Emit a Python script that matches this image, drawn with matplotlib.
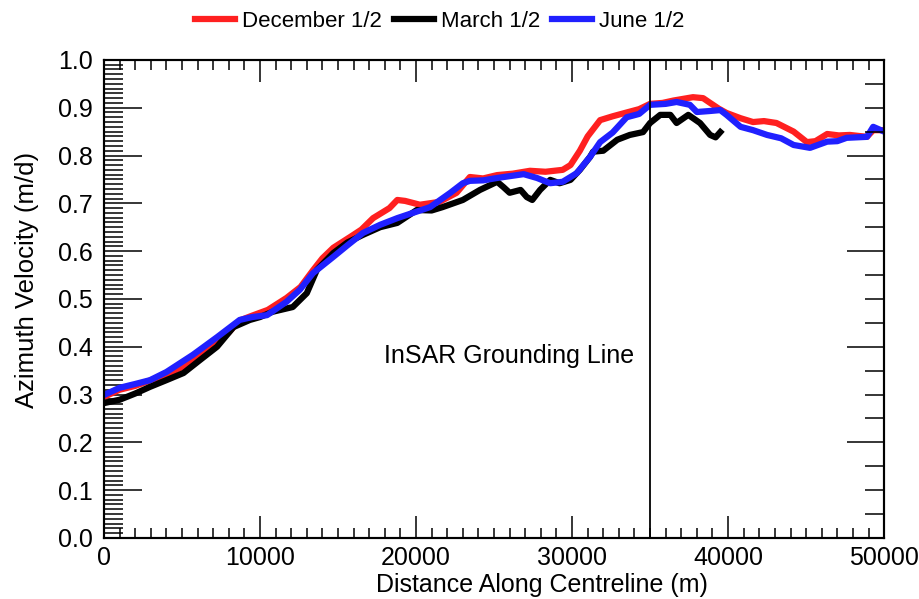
import matplotlib
matplotlib.use('Agg')
import matplotlib.pyplot as plt
from matplotlib.ticker import MultipleLocator

plt.rcParams['font.family'] = ['Liberation Sans', 'DejaVu Sans']

# December 1/2
dec_x = [0, 1000, 2000, 3000, 4000, 5000, 6000, 7000, 8000, 8700, 9500, 10500, 11700, 12600,
         13400, 14000, 14700, 15800, 16500, 17250, 18300, 18800, 19300, 20250, 21500, 22600,
         23450, 24300, 25200, 26200, 27300, 28300, 29400, 29900, 30500, 31000, 31800, 32600,
         33500, 34300, 35000, 35800, 36500, 37750, 38400, 38850, 39400, 39900, 40800, 41600,
         42300, 43100, 44200, 45050, 45600, 46350, 47100, 47800, 48900, 49300, 50000]
dec_y = [0.295, 0.31, 0.318, 0.33, 0.342, 0.357, 0.378, 0.40, 0.43, 0.455, 0.465, 0.477,
         0.502, 0.525, 0.56, 0.585, 0.607, 0.63, 0.645, 0.669, 0.69, 0.707, 0.705, 0.697,
         0.703, 0.722, 0.755, 0.752, 0.759, 0.762, 0.768, 0.766, 0.770, 0.78, 0.81, 0.84,
         0.874, 0.882, 0.89, 0.897, 0.908, 0.91, 0.915, 0.922, 0.92, 0.91, 0.898, 0.889,
         0.878, 0.870, 0.872, 0.868, 0.85, 0.828, 0.83, 0.845, 0.842, 0.843, 0.839, 0.853, 0.853]

# March 1/2
mar_x = [0, 1000, 2000, 2950, 4000, 5100, 6150, 7250, 8300, 9350, 10000, 10800, 12100, 13000,
         13650, 14700, 15600, 16600, 17700, 18800, 20050, 21000, 21700, 23000, 24100, 25200,
         25600, 26000, 26700, 27100, 27450, 27950, 28600, 29200, 29900, 30500, 31150, 31350,
         32000, 32900, 33700, 34550, 35000, 35650, 36300, 36700, 37450, 38200, 38850, 39200,
         39500]
mar_y = [0.282, 0.289, 0.302, 0.316, 0.33, 0.345, 0.372, 0.40, 0.441, 0.456, 0.462, 0.473,
         0.483, 0.512, 0.561, 0.596, 0.618, 0.634, 0.65, 0.659, 0.686, 0.685, 0.692, 0.707,
         0.728, 0.745, 0.734, 0.722, 0.728, 0.713, 0.707, 0.728, 0.749, 0.742, 0.749, 0.77,
         0.797, 0.808, 0.81, 0.833, 0.843, 0.849, 0.868, 0.885, 0.885, 0.868, 0.885, 0.868,
         0.843, 0.838, 0.849]

# June 1/2
jun_x = [0, 1000, 2000, 2950, 4000, 5700, 7250, 8700, 9500, 10450, 11700, 12550, 13400,
         14700, 15600, 16600, 17700, 18800, 20900, 22200, 23000, 23450, 24300, 25200, 26900,
         27750, 28600, 29400, 30300, 31150, 31800, 32600, 33500, 34300, 35000, 36000, 36700,
         37550, 38000, 38800, 39500, 39900, 40800, 41600, 42500, 43400, 44200, 45250, 46350,
         47000, 47600, 48900, 49300, 50000]
jun_y = [0.299, 0.314, 0.322, 0.33, 0.347, 0.383, 0.42, 0.456, 0.462, 0.466, 0.494, 0.519,
         0.554, 0.588, 0.612, 0.638, 0.655, 0.669, 0.692, 0.722, 0.742, 0.747, 0.748, 0.753,
         0.761, 0.753, 0.742, 0.745, 0.763, 0.797, 0.828, 0.848, 0.88, 0.887, 0.906, 0.908,
         0.912, 0.906, 0.891, 0.893, 0.895, 0.885, 0.86, 0.853, 0.843, 0.836, 0.822, 0.816,
         0.829, 0.83, 0.837, 0.839, 0.86, 0.85]

grounding_line = 35000

fig = plt.figure(figsize=(9.2, 5.99), dpi=100)
ax = fig.add_axes([0.113, 0.102, 0.848, 0.798])

ax.plot(dec_x, dec_y, color='#ff2020', lw=4.5, label='December 1/2')
ax.plot(mar_x, mar_y, color='black', lw=4.5, label='March 1/2')
ax.plot(jun_x, jun_y, color='#2020ff', lw=4.5, label='June 1/2')

ax.axvline(grounding_line, color='black', lw=1.3)
ax.text(34000, 0.38, 'InSAR Grounding Line', ha='right', va='center', fontsize=18)

ax.set_xlim(0, 50000)
ax.set_ylim(0, 1.0)
ax.xaxis.set_major_locator(MultipleLocator(10000))
ax.xaxis.set_minor_locator(MultipleLocator(1000))
ax.yaxis.set_major_locator(MultipleLocator(0.1))
ax.yaxis.set_minor_locator(MultipleLocator(0.01))
ax.yaxis.set_major_formatter(lambda v, p: f"{v:.1f}")

ax.tick_params(axis='x', which='major', direction='in', top=True, length=16, width=1.1,
               labelsize=18, pad=6)
ax.tick_params(axis='x', which='minor', direction='in', top=True, length=7.5, width=1.1)
ax.tick_params(axis='y', which='major', direction='in', right=False, length=27, width=1.1,
               labelsize=18, pad=8)
ax.tick_params(axis='y', which='minor', direction='in', right=False, length=13.5, width=1.1)

# right axis has its own, coarser ticks
ax2 = ax.twinx()
ax2.set_ylim(0, 1.0)
ax2.yaxis.set_major_locator(MultipleLocator(0.2))
ax2.yaxis.set_minor_locator(MultipleLocator(0.05))
ax2.tick_params(axis='y', which='major', direction='in', length=27, width=1.1, labelright=False)
ax2.tick_params(axis='y', which='minor', direction='in', length=13.5, width=1.1)

for a in (ax, ax2):
    for s in a.spines.values():
        s.set_linewidth(1.5)

ax.set_xlabel('Distance Along Centreline (m)', fontsize=18)
ax.xaxis.set_label_coords(0.5615, -0.073)
ax.set_ylabel('Azimuth Velocity (m/d)', fontsize=18.5)
ax.yaxis.set_label_coords(-0.083, 0.54)

fig.legend(loc='upper center', bbox_to_anchor=(0.478, 1.015), ncol=3, frameon=False,
           fontsize=16, handlelength=1.8, columnspacing=0.55, handletextpad=0.3)

fig.savefig('out.png', dpi=100, facecolor='white')
